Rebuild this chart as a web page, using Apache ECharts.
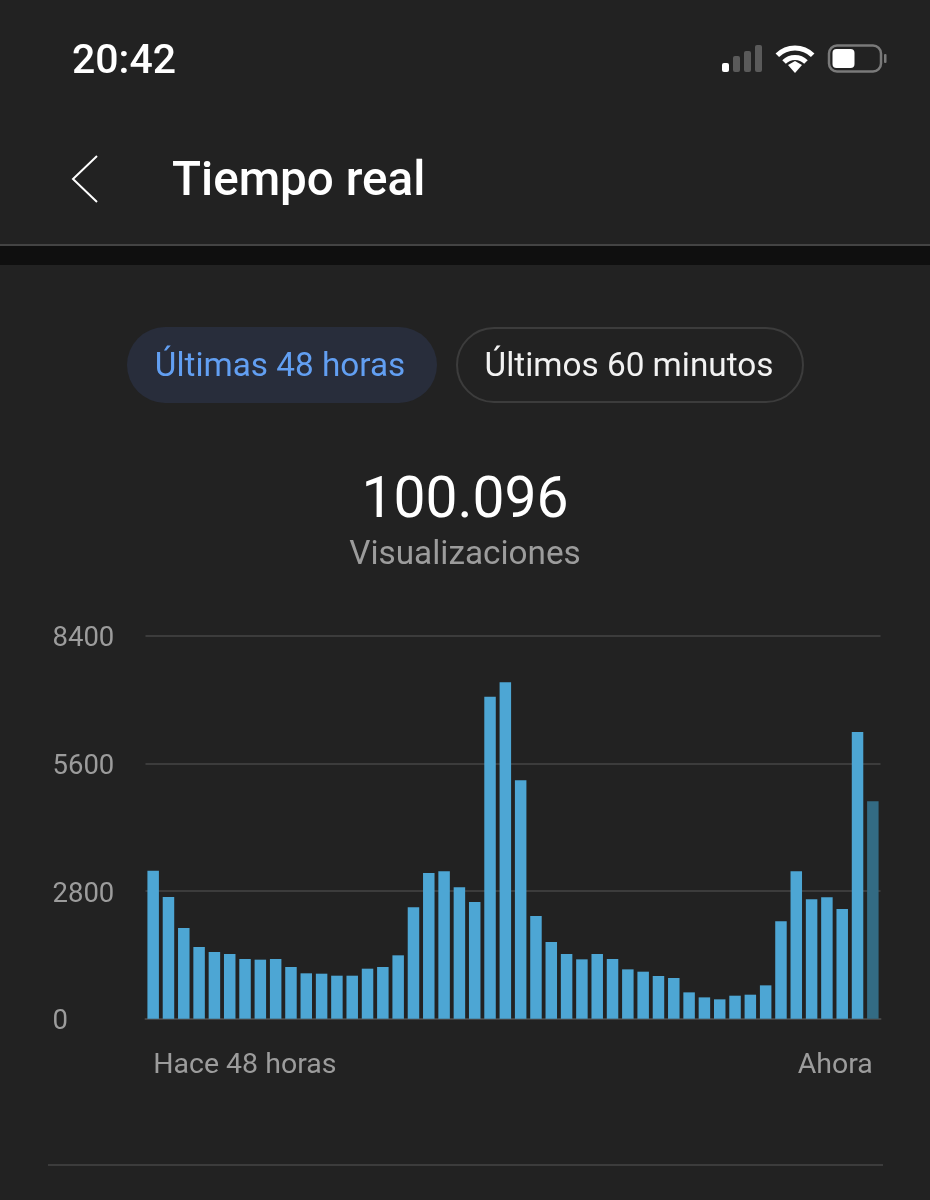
<!DOCTYPE html>
<html>
<head>
<meta charset="utf-8">
<style>html,body{margin:0;padding:0;background:#222}#c{width:930px;height:1200px}</style>
<script src="https://cdn.jsdelivr.net/npm/echarts@6/dist/echarts.min.js"></script>
</head>
<body>
<div id="c"></div>
<script>
var views = [3250,2672,1991,1574,1464,1420,1310,1296,1310,1135,996,988,944,944,1098,1135,1391,2445,3199,3235,2884,2562,7064,7386,5234,2255,1684,1420,1303,1420,1310,1083,1032,937,893,578,468,425,505,527,732,2137,3235,2621,2664,2408,6295,4773];
var firstLabel = 'Hace 48 horas';
var lastLabel = 'Ahora';
var yTicks = [0,2800,5600,8400];
var categories = views.map(function(_, i){ return i === 0 ? firstLabel : (i === views.length-1 ? lastLabel : ''); });
var FONT = 'Roboto';
function txt(x,y,s,size,color,weight,align){
  return {type:'text',x:x,y:y,silent:true,style:{text:s,fontFamily:FONT,fontSize:size,fill:color,fontWeight:weight||400,align:align||'left',verticalAlign:'middle'}};
}
function rect(x,y,w,h,fill,r,stroke,lw){
  var st={fill:fill||'transparent'}; if(stroke){st.stroke=stroke;st.lineWidth=lw||2;}
  return {type:'rect',silent:true,shape:{x:x,y:y,width:w,height:h,r:r||0},style:st};
}
function arc(cx,cy,r,c,w){
  return {type:'arc',silent:true,shape:{cx:cx,cy:cy,r:r,startAngle:-Math.PI*0.75,endAngle:-Math.PI*0.25},style:{fill:'none',stroke:c,lineWidth:w}};
}
var chrome = [
  txt(72,63,'20:42',41,'#ffffff',500),
  rect(722,63,7,9,'#ffffff',2), rect(733,56,7,16,'#5a5a5a',2), rect(744,51,7,21,'#5a5a5a',2), rect(755,45,7,27,'#5a5a5a',2),
  arc(795,73,25,'#ffffff',5),
  arc(795,73,15.5,'#ffffff',5),
  {type:'polygon',silent:true,shape:{points:[[788,65],[795,61],[802,65],[795,73]]},style:{fill:'#ffffff'}},
  rect(829,45.5,52,26,'transparent',8,'#7a7a7a',2.5),
  rect(832.5,49,22,19,'#ffffff',4),
  rect(884,54,2.5,9,'#7a7a7a',1),
  {type:'polyline',silent:true,shape:{points:[[97,156],[73,179],[97,202]]},style:{fill:'none',stroke:'#ffffff',lineWidth:2}},
  txt(172,183.5,'Tiempo real',47.6,'#ffffff',500),
  rect(0,244,930,2,'#444444'),
  rect(0,246,930,19,'#0f0f0f'),
  rect(127,327,310,76,'#282d3b',38),
  txt(280,368,'Últimas 48 horas',33.3,'#629ff2',400,'center'),
  rect(457,328,346,74,'transparent',37,'#3c3c3c',2),
  txt(629,368,'Últimos 60 minutos',33.3,'#f2f2f2',400,'center'),
  txt(465,502.5,'100.096',57,'#ffffff',400,'center'),
  txt(465,555.5,'Visualizaciones',33.3,'#9c9c9c',400,'center'),
  rect(48,1164,835,2,'#3c3c3c')
];
var chart = echarts.init(document.getElementById('c'), null, {renderer:'canvas'});
chart.setOption({
  animation:false,
  backgroundColor:'#222222',
  grid:{left:145.5,right:49.5,top:636,height:382.7,containLabel:false},
  xAxis:{type:'category',data:categories,boundaryGap:true,
    axisLine:{show:true,lineStyle:{color:'#444444',width:2}},axisTick:{show:false},
    axisLabel:{interval:0,hideOverlap:false,color:'#9c9c9c',fontFamily:FONT,fontSize:28.5,margin:33,alignMinLabel:'left',alignMaxLabel:'right'}},
  yAxis:{type:'value',min:yTicks[0],max:yTicks[3],interval:yTicks[1],
    axisLine:{show:false},axisTick:{show:false},
    splitLine:{show:true,lineStyle:{color:'#3c3c3c',width:2}},
    axisLabel:{align:'left',margin:93,formatter:function(v){return '{v|'+v+'}';},
      rich:{v:{color:'#9c9c9c',fontFamily:FONT,fontSize:27.5,padding:[7,0,0,0]}}}},
  series:[{type:'bar',barWidth:11.5,silent:true,
    data:views.map(function(v,i){ return {value:v,itemStyle:{color:i===views.length-1?'#336b84':'#4da6d4'}}; })}],
  graphic:{elements:chrome}
});
</script>
</body>
</html>
